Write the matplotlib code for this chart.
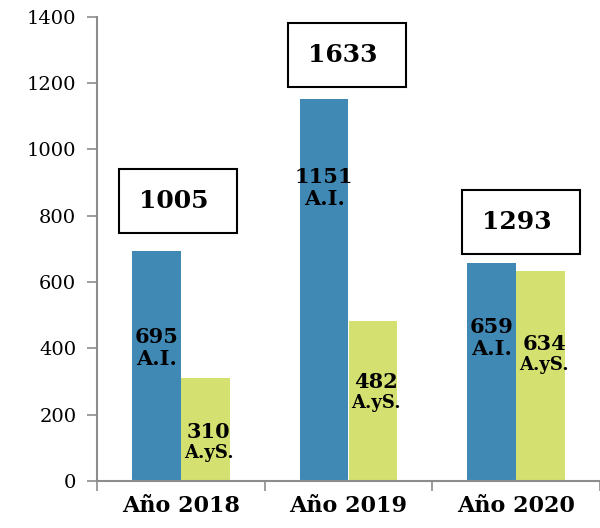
import numpy as np
import matplotlib.pyplot as plt

years = ["Año 2018", "Año 2019", "Año 2020"]
ai_values = [695, 1151, 659]
ays_values = [310, 482, 634]
ai_tag = "A.I."
ays_tag = "A.yS."

BLUE = "#4189B5"
GREEN = "#D4E06F"
GREY = "#8C8C8C"
SERIF = ["DejaVu Serif"]

plt.rcParams["font.family"] = SERIF

fig = plt.figure(figsize=(6, 5.28), dpi=100)
ax = fig.add_axes([0.162, 0.089, 0.838, 0.879])

x = np.arange(len(years))
w = 0.29
off = 0.146
ax.bar(x - off, ai_values, w, color=BLUE)
ax.bar(x + off, ays_values, w, color=GREEN)

# labels inside the bars (number on top, tag below)
ai_label_y = [401, 884, 431]
ays_label_y = [115, 265, 380]
for i in range(len(years)):
    ax.text(x[i] - off, ai_label_y[i] + 4, str(ai_values[i]), ha="center",
            va="bottom", fontsize=15, fontweight="bold")
    ax.text(x[i] - off, ai_label_y[i] - 2, ai_tag, ha="center",
            va="top", fontsize=15, fontweight="bold")
    ax.text(x[i] + off + 0.02, ays_label_y[i] + 4, str(ays_values[i]),
            ha="center", va="bottom", fontsize=15, fontweight="bold")
    ax.text(x[i] + off + 0.02, ays_label_y[i] - 2, ays_tag, ha="center",
            va="top", fontsize=13, fontweight="bold")

# totals in boxes
box_y = [845, 1285, 781]
box_x = [-0.02, -0.01, 0.03]
for i in range(len(years)):
    total = ai_values[i] + ays_values[i]
    ax.text(x[i] + box_x[i], box_y[i], f"{total} ", ha="center", va="center",
            fontsize=18, fontweight="bold",
            bbox=dict(boxstyle="square,pad=0.8", fc="white", ec="black", lw=1.5))

ax.set_xlim(-0.5, 2.5)
ax.set_ylim(0, 1400)
ax.set_yticks(range(0, 1401, 200))
ax.tick_params(axis="y", labelsize=14, length=7, color=GREY, width=1.2, pad=8)
ax.set_xticks(x)
ax.set_xticklabels(years, fontsize=16, fontweight="bold")
ax.tick_params(axis="x", length=0, pad=10)
ax.set_xticks([-0.5, 0.5, 1.5, 2.5], minor=True)
ax.tick_params(axis="x", which="minor", length=7, color=GREY, width=1.2)

for s in ["top", "right"]:
    ax.spines[s].set_visible(False)
for s in ["left", "bottom"]:
    ax.spines[s].set_color(GREY)
    ax.spines[s].set_linewidth(1.5)
ax.spines["bottom"].set_clip_on(False)

fig.savefig("out.png", dpi=100)
